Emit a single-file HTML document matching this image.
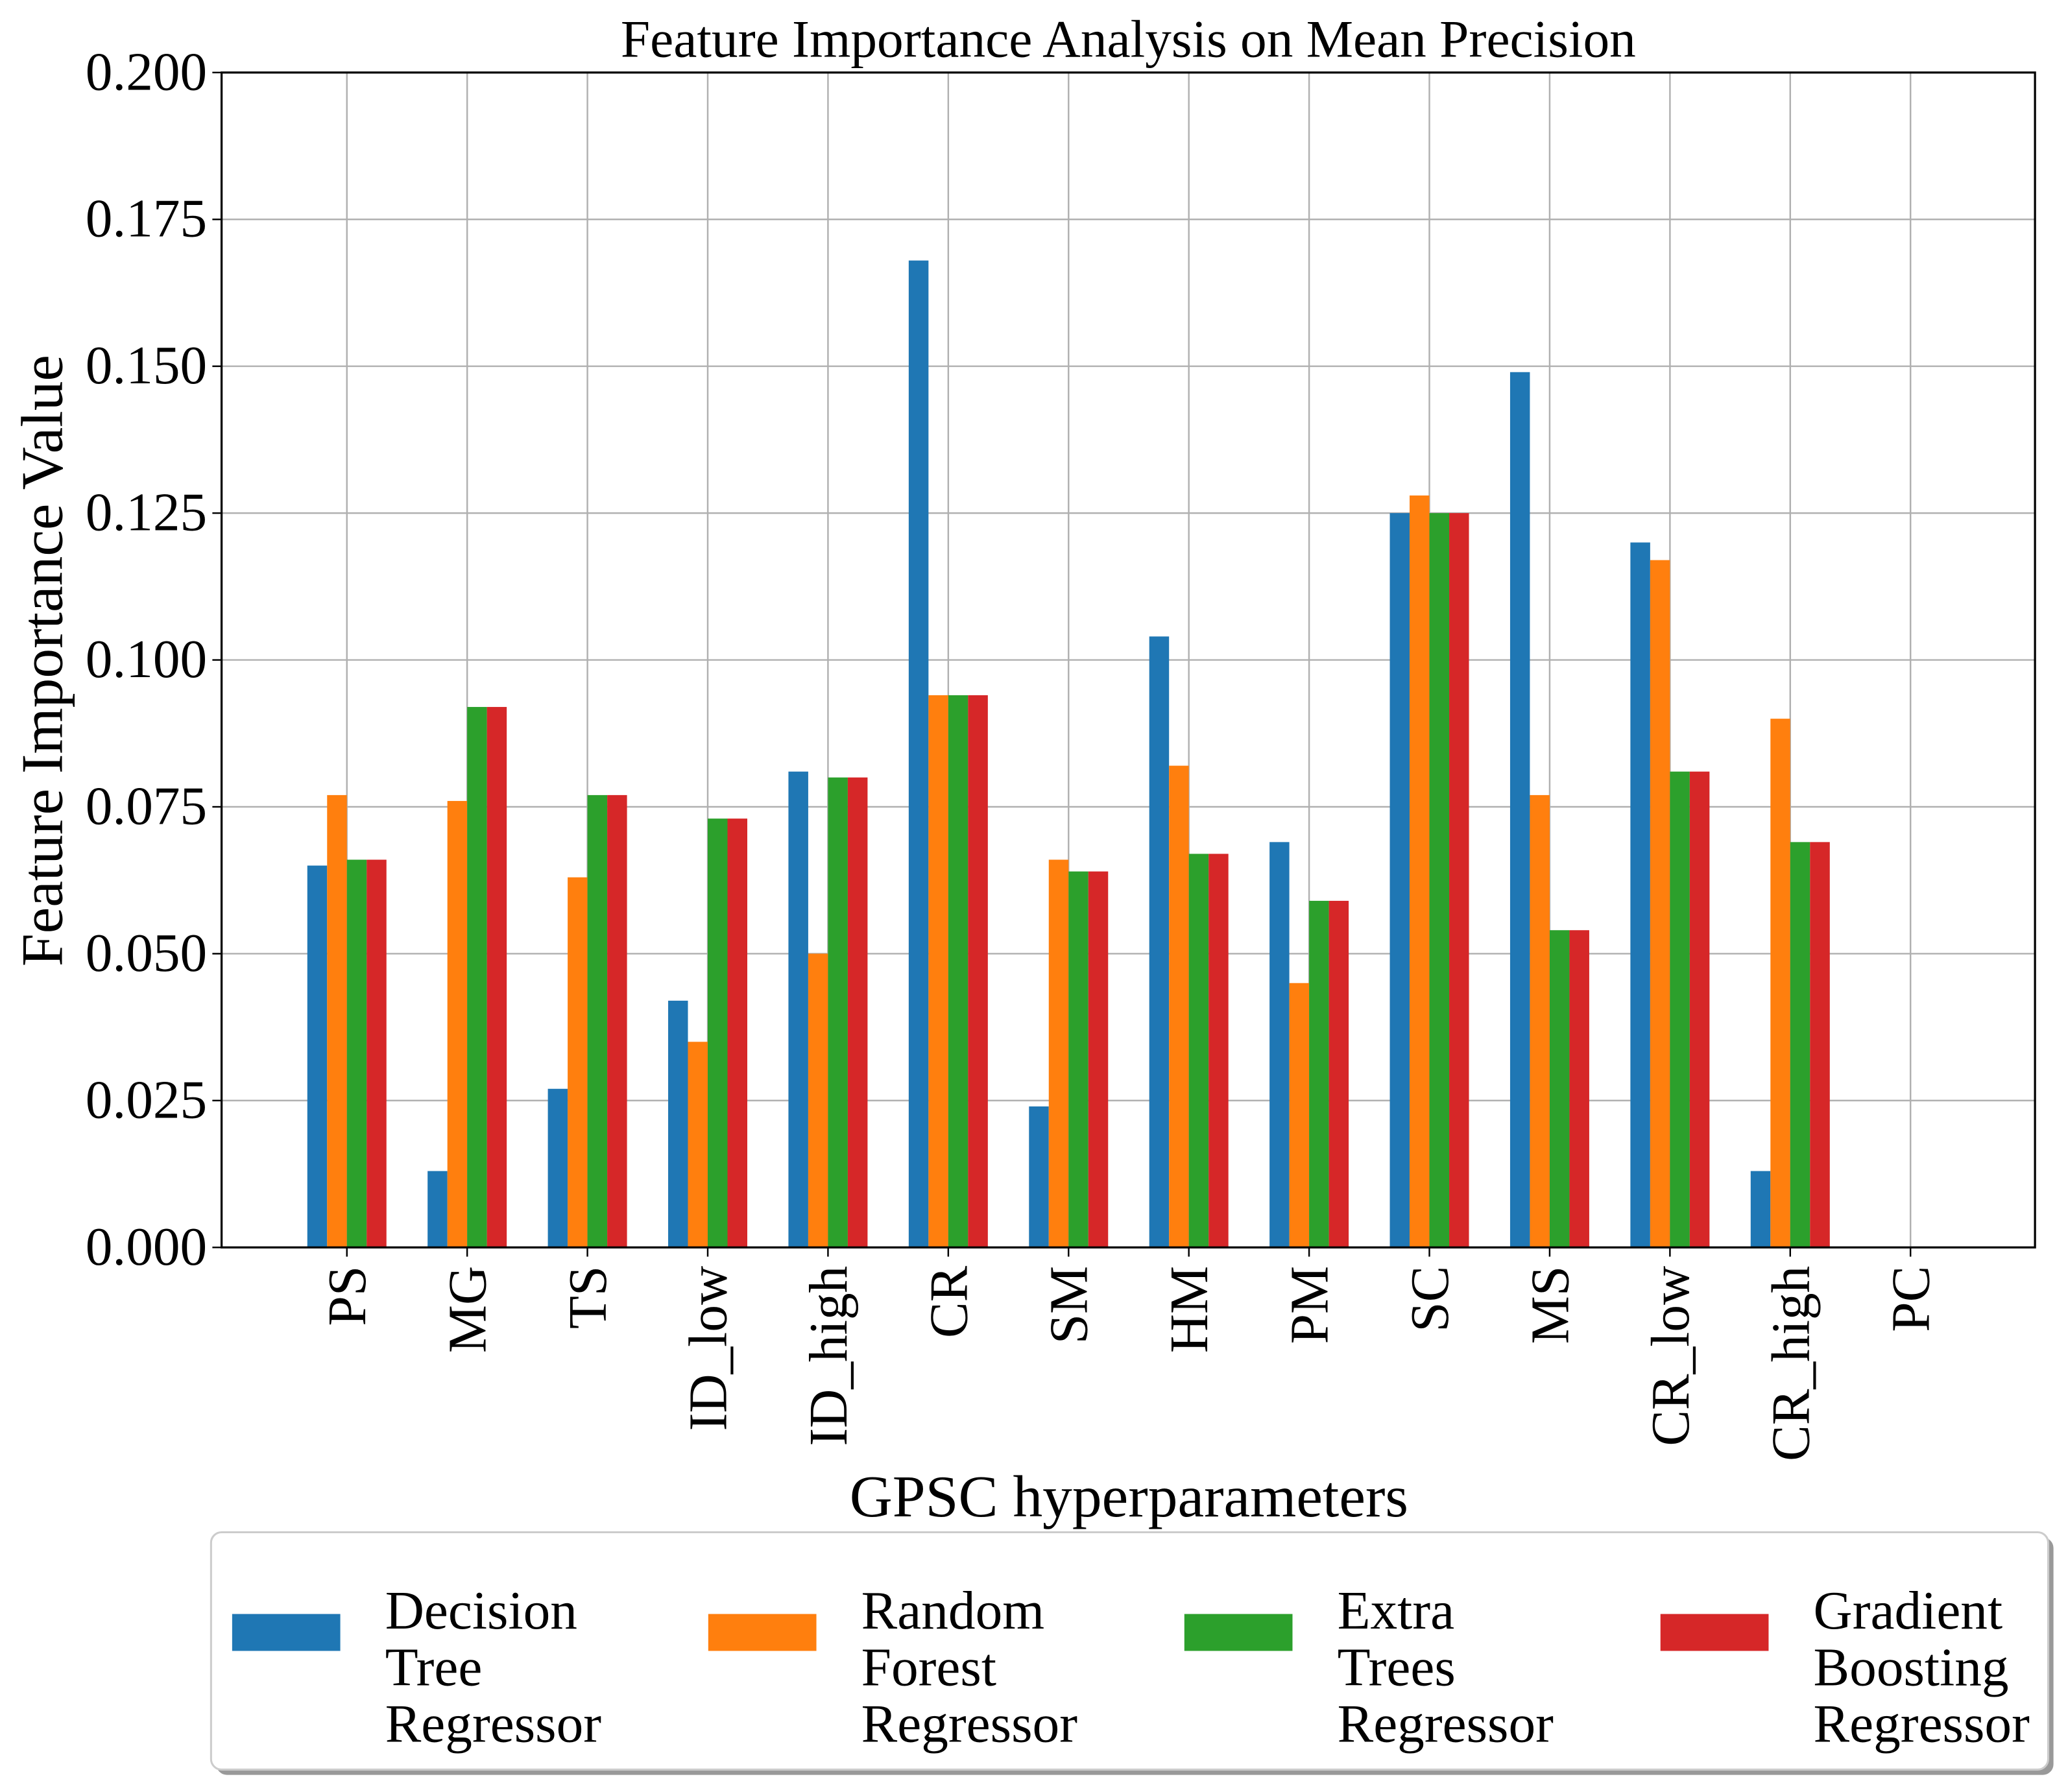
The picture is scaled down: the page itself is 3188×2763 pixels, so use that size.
<!DOCTYPE html>
<html><head><meta charset="utf-8"><style>
html,body{margin:0;padding:0;background:#fff}
svg{display:block}
text{font-family:"Liberation Serif",serif;fill:#000}
</style></head><body>
<svg id="chart" width="3188" height="2763" viewBox="0 0 1568 1359" xmlns="http://www.w3.org/2000/svg">
<rect width="1568" height="1359" fill="#fff"/>
<g id="grid"></g>
<g id="bars"></g>
<rect x="168" y="55" width="1375" height="891" fill="none" stroke="#000" stroke-width="1.6"/>
<g id="yticks"></g>
<g id="xticks"></g>
<text x="855.5" y="43" font-size="40" text-anchor="middle">Feature Importance Analysis on Mean Precision</text>
<text transform="translate(47,501) rotate(-90)" font-size="45" text-anchor="middle">Feature Importance Value</text>
<text x="856" y="1150" font-size="45" text-anchor="middle">GPSC hyperparameters</text>
<g>
<rect x="164" y="1166" width="1393" height="180" rx="8" fill="#555" opacity="0.6"/>
<rect x="160" y="1162" width="1393" height="180" rx="8" fill="#fff" stroke="#ccc" stroke-width="1.5"/>
<g id="legend-items"></g>
</g>
</svg>
<script>
const categories=["PS","MG","TS","ID_low","ID_high","CR","SM","HM","PM","SC","MS","CR_low","CR_high","PC"];
const decisionTree=[0.065,0.013,0.027,0.042,0.081,0.168,0.024,0.104,0.069,0.125,0.149,0.120,0.013,0];
const randomForest=[0.077,0.076,0.063,0.035,0.050,0.094,0.066,0.082,0.045,0.128,0.077,0.117,0.090,0];
const extraTrees=[0.066,0.092,0.077,0.073,0.080,0.094,0.064,0.067,0.059,0.125,0.054,0.081,0.069,0];
const gradientBoosting=[0.066,0.092,0.077,0.073,0.080,0.094,0.064,0.067,0.059,0.125,0.054,0.081,0.069,0];
const yTicks=[0,0.025,0.05,0.075,0.1,0.125,0.15,0.175,0.2];
const seriesNames=[["Decision","Tree","Regressor"],["Random","Forest","Regressor"],["Extra","Trees","Regressor"],["Gradient","Boosting","Regressor"]];
const seriesColors=["#1f77b4","#ff7f0e","#2ca02c","#d62728"];
const series=[decisionTree,randomForest,extraTrees,gradientBoosting];
const NS="http://www.w3.org/2000/svg";
const X0=168,X1=1543,Y0=946,Y1=55;
const yScale=v=>Y0-(v/0.2)*(Y0-Y1);
const xScale=i=>263+i*((1448.6-263)/13);
const bw=15;
function mk(tag,attrs,parent){const e=document.createElementNS(NS,tag);for(const k in attrs)e.setAttribute(k,attrs[k]);parent.appendChild(e);return e;}
const grid=document.getElementById('grid'),bars=document.getElementById('bars'),yt=document.getElementById('yticks'),xt=document.getElementById('xticks');
yTicks.forEach(v=>{
 const y=yScale(v);
 const g=mk('line',{x1:X0,x2:X1,y1:y,y2:y,stroke:'#b0b0b0','stroke-width':1.2},grid);
 
 
 mk('line',{x1:X0-7,x2:X0,y1:y,y2:y,stroke:'#000','stroke-width':1.2},yt);
 const t=mk('text',{x:X0-11,y:y+13,'font-size':41,'text-anchor':'end'},yt);
 
 
 t.textContent=v.toFixed(3);
});
categories.forEach((c,i)=>{
 const x=xScale(i);
 const g=mk('line',{x1:x,x2:x,y1:Y1,y2:Y0,stroke:'#b0b0b0','stroke-width':1.2},grid);
 
 
 mk('line',{x1:x,x2:x,y1:Y0,y2:Y0+7,stroke:'#000','stroke-width':1.2},xt);
 const t=mk('text',{transform:`translate(${x+14},${Y0+14}) rotate(-90)`,'font-size':41,'text-anchor':'end'},xt);
 
 
 t.textContent=c;
 series.forEach((s,j)=>{
  const v=s[i];const y=yScale(v);
  const r=mk('rect',{x:x+(j-2)*bw,y:y,width:bw,height:Y0-y,fill:seriesColors[j]},bars);
  
  
 });
});
const li=document.getElementById('legend-items');
seriesNames.forEach((n,j)=>{
 const ox=j*361;
 const p=mk('rect',{x:176+ox,y:1224,width:82,height:28,fill:seriesColors[j]},li);
 
 
 n.forEach((w,k)=>{
  const t=mk('text',{x:292+ox,y:1235+k*43,'font-size':41},li);
  
  
  t.textContent=w;
 });
});
</script>
</body></html>
